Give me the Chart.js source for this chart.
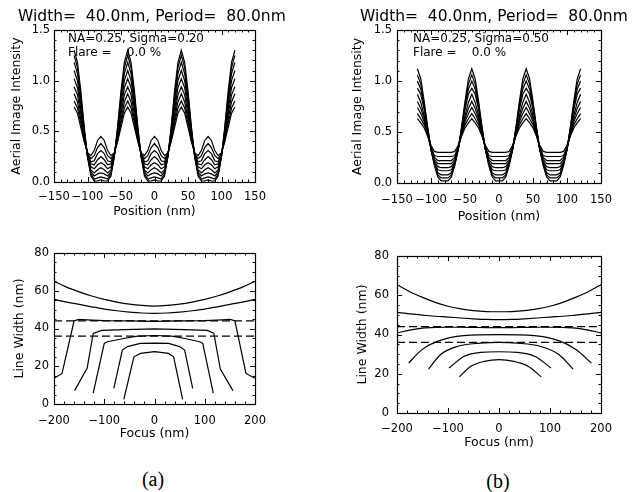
<!DOCTYPE html>
<html lang="en">
<head>
<meta charset="UTF-8">
<title>Aerial image and line width vs focus</title>
<script src="https://cdn.jsdelivr.net/npm/chart.js@4.4.1/dist/chart.umd.min.js"></script>
<style>
  body { margin: 0; background: #fff; }
  .page {
    position: relative;
    width: 639px;
    height: 492px;
    overflow: hidden;
    background: #fff;
    color: #000;
    font-family: "DejaVu Sans", sans-serif;
  }
  .page canvas { position: absolute; }
  .title { position: absolute; font-size: 15.5px; line-height: 16px; white-space: pre; }
  .note { position: absolute; font-size: 12px; line-height: 13px; white-space: pre; }
  .caption {
    position: absolute;
    width: 40px;
    text-align: center;
    font-family: "Liberation Serif", serif;
    font-size: 20px;
    line-height: 20px;
  }
</style>
</head>
<body>
<div class="page">
  <canvas id="aerial-a" width="320" height="230" style="left:0;top:0;width:320px;height:230px"></canvas>
  <canvas id="aerial-b" width="319" height="230" style="left:320px;top:0;width:319px;height:230px"></canvas>
  <canvas id="focus-a" width="320" height="220" style="left:0;top:230px;width:320px;height:220px"></canvas>
  <canvas id="focus-b" width="319" height="225" style="left:320px;top:230px;width:319px;height:225px"></canvas>

  <div class="title" style="left:18px;top:8px">Width=  40.0nm, Period=  80.0nm</div>
  <div class="title" style="left:360px;top:8px">Width=  40.0nm, Period=  80.0nm</div>
  <div class="note" style="left:68px;top:32px">NA=0.25, Sigma=0.20</div>
  <div class="note" style="left:68px;top:46px">Flare =    0.0 %</div>
  <div class="note" style="left:413px;top:32px">NA=0.25, Sigma=0.50</div>
  <div class="note" style="left:413px;top:46px">Flare =    0.0 %</div>
  <div class="caption" style="left:133px;top:469px">(a)</div>
  <div class="caption" style="left:478px;top:471px">(b)</div>
</div>

<script>
  // ---- aerial image: position (nm) and intensity per focus step ----
  const positions = [-120,-115,-110,-105,-100,-95,-90,-85,-80,-75,-70,-65,-60,-55,-50,-45,
    -40,-35,-30,-25,-20,-15,-10,-5,0,5,10,15,20,25,30,35,
    40,45,50,55,60,65,70,75,80,85,90,95,100,105,110,115,120];

  // sigma = 0.20, best focus (A0) to largest defocus (A8)
  const aerialA0 = [1.30,1.18,0.90,0.55,0.25,0.06,0.01,0.01,0.02,0.01,0.01,0.06,0.25,0.55,0.90,1.18,
    1.30,1.18,0.90,0.55,0.25,0.06,0.01,0.01,0.02,0.01,0.01,0.06,0.25,0.55,0.90,1.18,
    1.30,1.18,0.90,0.55,0.25,0.06,0.01,0.01,0.02,0.01,0.01,0.06,0.25,0.55,0.90,1.18, 1.30];
  const aerialA1 = [1.25,1.13,0.86,0.53,0.25,0.08,0.03,0.04,0.05,0.04,0.03,0.08,0.25,0.53,0.86,1.13,
    1.25,1.13,0.86,0.53,0.25,0.08,0.03,0.04,0.05,0.04,0.03,0.08,0.25,0.53,0.86,1.13,
    1.25,1.13,0.86,0.53,0.25,0.08,0.03,0.04,0.05,0.04,0.03,0.08,0.25,0.53,0.86,1.13, 1.25];
  const aerialA2 = [1.18,1.07,0.82,0.51,0.26,0.10,0.06,0.08,0.09,0.08,0.06,0.10,0.26,0.51,0.82,1.07,
    1.18,1.07,0.82,0.51,0.26,0.10,0.06,0.08,0.09,0.08,0.06,0.10,0.26,0.51,0.82,1.07,
    1.18,1.07,0.82,0.51,0.26,0.10,0.06,0.08,0.09,0.08,0.06,0.10,0.26,0.51,0.82,1.07, 1.18];
  const aerialA3 = [1.10,1.00,0.77,0.49,0.26,0.12,0.09,0.12,0.14,0.12,0.09,0.12,0.26,0.49,0.77,1.00,
    1.10,1.00,0.77,0.49,0.26,0.12,0.09,0.12,0.14,0.12,0.09,0.12,0.26,0.49,0.77,1.00,
    1.10,1.00,0.77,0.49,0.26,0.12,0.09,0.12,0.14,0.12,0.09,0.12,0.26,0.49,0.77,1.00, 1.10];
  const aerialA4 = [1.02,0.93,0.72,0.47,0.27,0.15,0.13,0.17,0.19,0.17,0.13,0.15,0.27,0.47,0.72,0.93,
    1.02,0.93,0.72,0.47,0.27,0.15,0.13,0.17,0.19,0.17,0.13,0.15,0.27,0.47,0.72,0.93,
    1.02,0.93,0.72,0.47,0.27,0.15,0.13,0.17,0.19,0.17,0.13,0.15,0.27,0.47,0.72,0.93, 1.02];
  const aerialA5 = [0.94,0.86,0.67,0.45,0.27,0.18,0.17,0.22,0.25,0.22,0.17,0.18,0.27,0.45,0.67,0.86,
    0.94,0.86,0.67,0.45,0.27,0.18,0.17,0.22,0.25,0.22,0.17,0.18,0.27,0.45,0.67,0.86,
    0.94,0.86,0.67,0.45,0.27,0.18,0.17,0.22,0.25,0.22,0.17,0.18,0.27,0.45,0.67,0.86, 0.94];
  const aerialA6 = [0.87,0.79,0.62,0.43,0.28,0.20,0.21,0.28,0.31,0.28,0.21,0.20,0.28,0.43,0.62,0.79,
    0.87,0.79,0.62,0.43,0.28,0.20,0.21,0.28,0.31,0.28,0.21,0.20,0.28,0.43,0.62,0.79,
    0.87,0.79,0.62,0.43,0.28,0.20,0.21,0.28,0.31,0.28,0.21,0.20,0.28,0.43,0.62,0.79, 0.87];
  const aerialA7 = [0.80,0.73,0.58,0.41,0.28,0.23,0.26,0.34,0.38,0.34,0.26,0.23,0.28,0.41,0.58,0.73,
    0.80,0.73,0.58,0.41,0.28,0.23,0.26,0.34,0.38,0.34,0.26,0.23,0.28,0.41,0.58,0.73,
    0.80,0.73,0.58,0.41,0.28,0.23,0.26,0.34,0.38,0.34,0.26,0.23,0.28,0.41,0.58,0.73, 0.80];
  const aerialA8 = [0.74,0.68,0.54,0.40,0.29,0.26,0.31,0.41,0.45,0.41,0.31,0.26,0.29,0.40,0.54,0.68,
    0.74,0.68,0.54,0.40,0.29,0.26,0.31,0.41,0.45,0.41,0.31,0.26,0.29,0.40,0.54,0.68,
    0.74,0.68,0.54,0.40,0.29,0.26,0.31,0.41,0.45,0.41,0.31,0.26,0.29,0.40,0.54,0.68, 0.74];

  // sigma = 0.50
  const aerialB0 = [1.12,1.02,0.80,0.55,0.33,0.17,0.06,0.02,0.02,0.02,0.06,0.17,0.33,0.55,0.80,1.02,
    1.12,1.02,0.80,0.55,0.33,0.17,0.06,0.02,0.02,0.02,0.06,0.17,0.33,0.55,0.80,1.02,
    1.12,1.02,0.80,0.55,0.33,0.17,0.06,0.02,0.02,0.02,0.06,0.17,0.33,0.55,0.80,1.02, 1.12];
  const aerialB1 = [1.06,0.97,0.77,0.54,0.33,0.18,0.08,0.05,0.05,0.05,0.08,0.18,0.33,0.54,0.77,0.97,
    1.06,0.97,0.77,0.54,0.33,0.18,0.08,0.05,0.05,0.05,0.08,0.18,0.33,0.54,0.77,0.97,
    1.06,0.97,0.77,0.54,0.33,0.18,0.08,0.05,0.05,0.05,0.08,0.18,0.33,0.54,0.77,0.97, 1.06];
  const aerialB2 = [1.00,0.92,0.75,0.53,0.33,0.19,0.10,0.08,0.08,0.08,0.10,0.19,0.33,0.53,0.75,0.92,
    1.00,0.92,0.75,0.53,0.33,0.19,0.10,0.08,0.08,0.08,0.10,0.19,0.33,0.53,0.75,0.92,
    1.00,0.92,0.75,0.53,0.33,0.19,0.10,0.08,0.08,0.08,0.10,0.19,0.33,0.53,0.75,0.92, 1.00];
  const aerialB3 = [0.93,0.87,0.72,0.52,0.33,0.20,0.13,0.12,0.12,0.12,0.13,0.20,0.33,0.52,0.72,0.87,
    0.93,0.87,0.72,0.52,0.33,0.20,0.13,0.12,0.12,0.12,0.13,0.20,0.33,0.52,0.72,0.87,
    0.93,0.87,0.72,0.52,0.33,0.20,0.13,0.12,0.12,0.12,0.13,0.20,0.33,0.52,0.72,0.87, 0.93];
  const aerialB4 = [0.87,0.79,0.66,0.50,0.33,0.21,0.16,0.15,0.15,0.15,0.16,0.21,0.33,0.50,0.66,0.79,
    0.87,0.79,0.66,0.50,0.33,0.21,0.16,0.15,0.15,0.15,0.16,0.21,0.33,0.50,0.66,0.79,
    0.87,0.79,0.66,0.50,0.33,0.21,0.16,0.15,0.15,0.15,0.16,0.21,0.33,0.50,0.66,0.79, 0.87];
  const aerialB5 = [0.80,0.73,0.63,0.49,0.34,0.23,0.19,0.19,0.19,0.19,0.19,0.23,0.34,0.49,0.63,0.73,
    0.80,0.73,0.63,0.49,0.34,0.23,0.19,0.19,0.19,0.19,0.19,0.23,0.34,0.49,0.63,0.73,
    0.80,0.73,0.63,0.49,0.34,0.23,0.19,0.19,0.19,0.19,0.19,0.23,0.34,0.49,0.63,0.73, 0.80];
  const aerialB6 = [0.74,0.68,0.60,0.48,0.34,0.25,0.22,0.22,0.22,0.22,0.22,0.25,0.34,0.48,0.60,0.68,
    0.74,0.68,0.60,0.48,0.34,0.25,0.22,0.22,0.22,0.22,0.22,0.25,0.34,0.48,0.60,0.68,
    0.74,0.68,0.60,0.48,0.34,0.25,0.22,0.22,0.22,0.22,0.22,0.25,0.34,0.48,0.60,0.68, 0.74];
  const aerialB7 = [0.68,0.63,0.57,0.47,0.35,0.27,0.26,0.26,0.26,0.26,0.26,0.27,0.35,0.47,0.57,0.63,
    0.68,0.63,0.57,0.47,0.35,0.27,0.26,0.26,0.26,0.26,0.26,0.27,0.35,0.47,0.57,0.63,
    0.68,0.63,0.57,0.47,0.35,0.27,0.26,0.26,0.26,0.26,0.26,0.27,0.35,0.47,0.57,0.63, 0.68];
  const aerialB8 = [0.63,0.59,0.54,0.46,0.37,0.31,0.30,0.30,0.30,0.30,0.30,0.31,0.37,0.46,0.54,0.59,
    0.63,0.59,0.54,0.46,0.37,0.31,0.30,0.30,0.30,0.30,0.30,0.31,0.37,0.46,0.54,0.59,
    0.63,0.59,0.54,0.46,0.37,0.31,0.30,0.30,0.30,0.30,0.30,0.31,0.37,0.46,0.54,0.59, 0.63];

  // ---- line width (nm) vs focus (nm) ----
  const focusSmooth = [-200,-175,-150,-125,-100,-75,-50,-25,0,25,50,75,100,125,150,175,200];

  // panel (a)
  const widthTopA = [65.0,61.9,59.4,57.2,55.4,54.0,52.9,52.2,51.9,52.2,52.9,54.0,55.4,57.2,59.4,61.9,65.0];
  const widthSecondA = [55.4,54.0,52.8,51.5,50.3,49.4,48.7,48.2,48.0,48.2,48.7,49.4,50.3,51.5,52.8,54.0,55.4];
  const focusThirdA = [-200,-184,-160,-150,-135,-100,-50,0,50,100,135,150,160,182,200];
  const widthThirdA = [13.6,16.2,44.1,44.8,44.6,44.2,44.0,43.8,44.0,44.2,44.6,44.8,44.1,16.2,13.6];
  const focusFourthA = [-159,-134,-122,-105,-60,0,60,105,118,131,156];
  const widthFourthA = [7.1,19.0,37.4,39.0,39.4,39.8,39.4,39.0,37.5,18.5,7.1];
  const focusFifthA = [-122,-100,-94,-61,-34,0,34,61,90,96,117];
  const widthFifthA = [5.7,32.1,33.0,34.7,36.0,36.3,36.0,34.7,33.0,32.1,5.7];
  const focusSixthA = [-81,-64,-54,-28,0,28,50,60,76];
  const widthSixthA = [8.3,28.6,30.4,32.1,32.3,32.1,30.4,28.6,8.3];
  const focusSeventhA = [-61,-41,-28,0,28,38,56];
  const widthSeventhA = [2.5,25.0,26.8,27.7,26.8,25.0,2.5];

  // panel (b)
  const widthTopB = [65.4,61.8,58.9,56.4,54.4,53.1,52.2,51.7,51.6,51.7,52.2,53.1,54.4,56.4,58.9,61.8,65.4];
  const widthSecondB = [51.3,50.5,49.9,49.3,48.9,48.4,48.0,47.7,47.6,47.7,48.0,48.4,48.9,49.3,49.9,50.5,51.3];
  const widthThirdB = [40.8,42.2,43.2,43.6,43.7,43.7,43.6,43.5,43.5,43.5,43.6,43.7,43.7,43.6,43.2,42.2,40.8];
  const focusFourthB = [-177,-151,-121,-69,0,69,121,151,181];
  const widthFourthB = [25.5,32.3,36.5,39.4,39.9,39.4,36.5,32.3,25.5];
  const focusFifthB = [-138,-115,-82,-36,0,36,82,118,145];
  const widthFifthB = [22.4,29.7,33.9,35.6,36.0,35.6,33.9,29.7,22.4];
  const focusSixthB = [-98,-69,-36,0,36,71,102];
  const widthSixthB = [22.9,28.8,30.9,31.2,30.9,28.8,22.9];
  const focusSeventhB = [-78,-55,-29,0,29,57,83];
  const widthSeventhB = [18.4,23.8,26.3,27.2,26.3,23.8,18.4];

  // +/-10% limits around 40 nm
  const limitFocus = [-200, 200];
  const upperLimit = [44, 44];
  const lowerLimit = [36, 36];

  const aerialCurvesA = [aerialA0, aerialA1, aerialA2, aerialA3, aerialA4, aerialA5, aerialA6, aerialA7, aerialA8];
  const aerialCurvesB = [aerialB0, aerialB1, aerialB2, aerialB3, aerialB4, aerialB5, aerialB6, aerialB7, aerialB8];

  // box with inward major/minor ticks on all four sides, like the IDL plots
  const boxTicks = {
    id: 'boxTicks',
    afterDatasetsDraw(chart, args, opts) {
      const {ctx, chartArea: a, scales: {x, y}} = chart;
      ctx.save();
      ctx.strokeStyle = '#000';
      ctx.lineWidth = 1;
      ctx.beginPath();
      const marks = (scale, major, minor, horizontal) => {
        const n = Math.round((scale.max - scale.min) / minor);
        for (let i = 0; i <= n; i++) {
          const v = scale.min + i * minor;
          const isMajor = Math.abs(v / major - Math.round(v / major)) < 1e-6;
          const len = isMajor ? 5 : 2.5;
          const p = Math.round(scale.getPixelForValue(v)) + 0.5;
          if (horizontal) {
            ctx.moveTo(p, a.bottom); ctx.lineTo(p, a.bottom - len);
            ctx.moveTo(p, a.top); ctx.lineTo(p, a.top + len);
          } else {
            ctx.moveTo(a.left, p); ctx.lineTo(a.left + len, p);
            ctx.moveTo(a.right, p); ctx.lineTo(a.right - len, p);
          }
        }
      };
      marks(x, opts.xMajor, opts.xMinor, true);
      marks(y, opts.yMajor, opts.yMinor, false);
      ctx.stroke();
      ctx.lineWidth = 1.2;
      ctx.strokeRect(Math.round(a.left) + 0.5, Math.round(a.top) + 0.5,
        Math.round(a.right - a.left), Math.round(a.bottom - a.top));
      ctx.restore();
    }
  };

  const curve = (xs, ys, extra) => Object.assign({
    data: xs.map((x, i) => ({x, y: ys[i]})),
    borderColor: '#000',
    borderWidth: 1.2,
    pointRadius: 0,
    tension: 0,
    fill: false
  }, extra || {});

  const tickFont = {family: 'DejaVu Sans', size: 11.5};
  const titleFont = {family: 'DejaVu Sans', size: 12.5};
  const signed = v => (v < 0 ? '\u2212' + Math.abs(v) : String(v));

  function makeChart(id, box, axes, datasets) {
    return new Chart(document.getElementById(id), {
      type: 'line',
      data: {datasets},
      plugins: [boxTicks],
      options: {
        responsive: false,
        animation: false,
        events: [],
        layout: {padding: {left: 0, top: box.top, right: box.width - box.right, bottom: 0}},
        plugins: {
          legend: {display: false},
          tooltip: {enabled: false},
          boxTicks: axes.ticks
        },
        scales: {
          x: {
            type: 'linear',
            min: axes.xMin, max: axes.xMax,
            grid: {display: false, drawTicks: false},
            border: {display: false},
            ticks: {stepSize: axes.xStep, autoSkip: false, maxRotation: 0, color: '#000',
              font: tickFont, padding: box.xTickPad, callback: signed},
            title: {display: true, text: axes.xTitle, color: '#000', font: titleFont,
              padding: {top: 0, bottom: box.xTitlePad}},
            afterFit: s => { s.height = box.height - box.bottom; }
          },
          y: {
            min: axes.yMin, max: axes.yMax,
            grid: {display: false, drawTicks: false},
            border: {display: false},
            ticks: {stepSize: axes.yStep, autoSkip: false, color: '#000', font: tickFont,
              padding: box.yTickPad, callback: axes.yFormat},
            title: {display: true, text: axes.yTitle, color: '#000', font: titleFont,
              padding: {top: box.yTitlePad, bottom: 0}},
            afterFit: s => { s.width = box.left; }
          }
        }
      }
    });
  }

  const aerialAxes = {
    xMin: -150, xMax: 150, xStep: 50, xTitle: 'Position (nm)',
    yMin: 0, yMax: 1.5, yStep: 0.5, yTitle: 'Aerial Image Intensity',
    yFormat: v => v.toFixed(1),
    ticks: {xMajor: 50, xMinor: 10, yMajor: 0.5, yMinor: 0.1}
  };
  const focusAxes = {
    xMin: -200, xMax: 200, xStep: 100, xTitle: 'Focus (nm)',
    yMin: 0, yMax: 80, yStep: 20, yTitle: 'Line Width (nm)',
    yFormat: v => String(v),
    ticks: {xMajor: 100, xMinor: 20, yMajor: 20, yMinor: 5}
  };

  makeChart('aerial-a',
    {width: 320, height: 230, left: 54, right: 255, top: 30, bottom: 182,
      yTitlePad: 9.5, yTickPad: 4, xTickPad: 8, xTitlePad: 10.5},
    aerialAxes,
    aerialCurvesA.map(c => curve(positions, c)));

  makeChart('aerial-b',
    {width: 319, height: 230, left: 77, right: 281, top: 30, bottom: 183,
      yTitlePad: 30.5, yTickPad: 5, xTickPad: 10, xTitlePad: 6},
    aerialAxes,
    aerialCurvesB.map(c => curve(positions, c)));

  const dashed = {borderDash: [8, 4], borderWidth: 1.2};
  const smooth = {cubicInterpolationMode: 'monotone'};

  makeChart('focus-a',
    {width: 320, height: 220, left: 54, right: 255, top: 23, bottom: 174,
      yTitlePad: 12.5, yTickPad: 5, xTickPad: 10, xTitlePad: 8.5},
    focusAxes,
    [
      curve(focusSmooth, widthTopA, smooth),
      curve(focusSmooth, widthSecondA, smooth),
      curve(focusThirdA, widthThirdA),
      curve(focusFourthA, widthFourthA),
      curve(focusFifthA, widthFifthA),
      curve(focusSixthA, widthSixthA),
      curve(focusSeventhA, widthSeventhA),
      curve(limitFocus, upperLimit, dashed),
      curve(limitFocus, lowerLimit, dashed)
    ]);

  makeChart('focus-b',
    {width: 319, height: 225, left: 77, right: 281, top: 26, bottom: 183,
      yTitlePad: 35.5, yTickPad: 8, xTickPad: 9, xTitlePad: 4.5},
    focusAxes,
    [
      curve(focusSmooth, widthTopB, smooth),
      curve(focusSmooth, widthSecondB, smooth),
      curve(focusSmooth, widthThirdB, smooth),
      curve(focusFourthB, widthFourthB, smooth),
      curve(focusFifthB, widthFifthB, smooth),
      curve(focusSixthB, widthSixthB, smooth),
      curve(focusSeventhB, widthSeventhB, smooth),
      curve(limitFocus, upperLimit, dashed),
      curve(limitFocus, lowerLimit, dashed)
    ]);
</script>
</body>
</html>
